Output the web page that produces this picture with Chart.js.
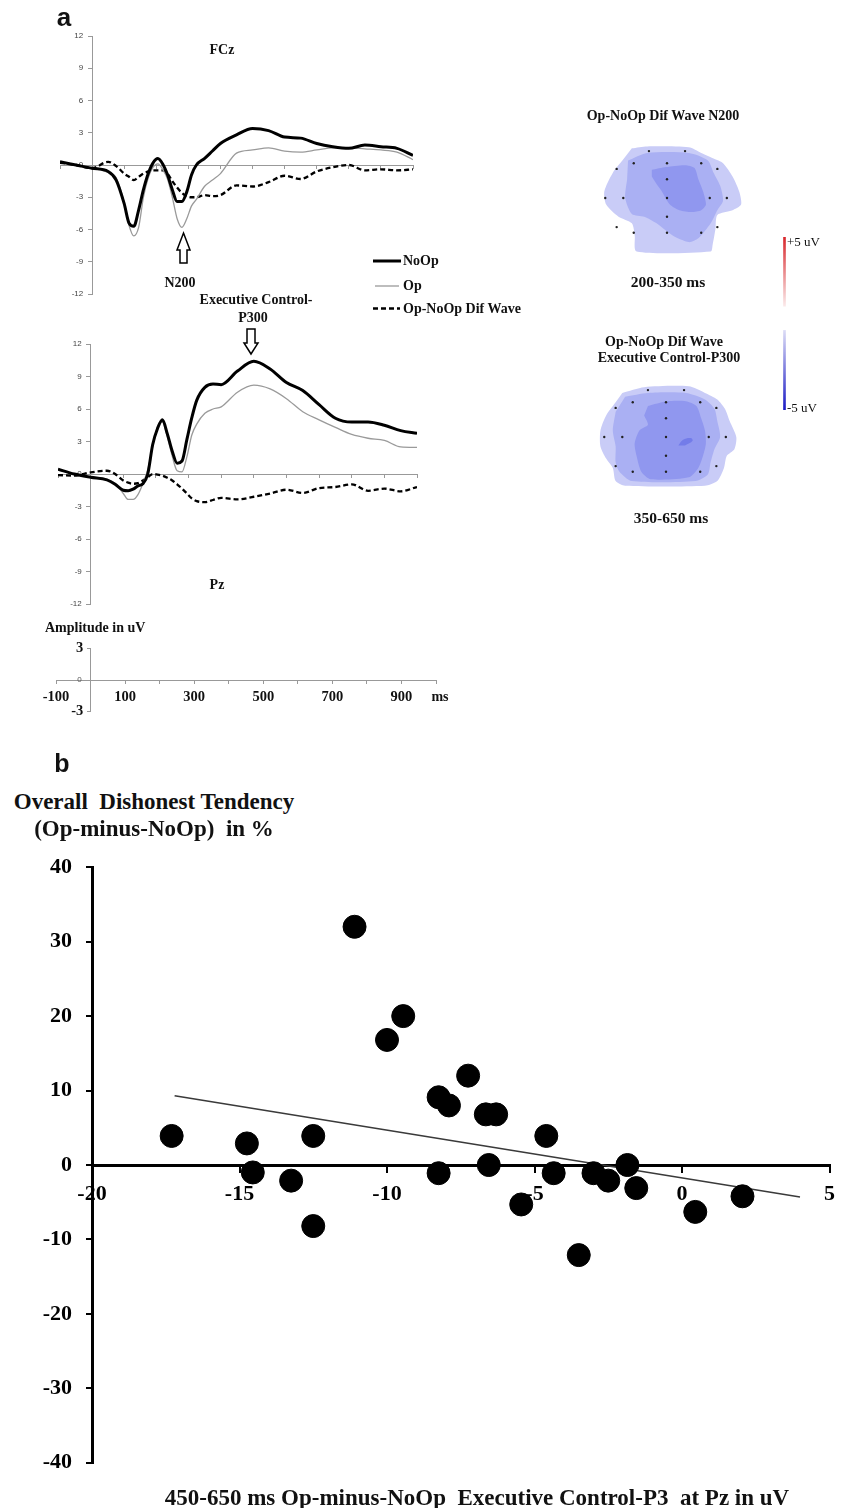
<!DOCTYPE html>
<html lang="en">
<head>
<meta charset="utf-8" />
<title>Op-NoOp ERP and dishonest tendency</title>
<script src="https://cdn.jsdelivr.net/npm/chart.js@4.4.0/dist/chart.umd.min.js"></script>
<style>
  body { margin: 0; width: 845px; height: 1508px; position: relative; background: #fff; overflow: hidden; }
  canvas { position: absolute; }
  .t { position: absolute; font-family: "Liberation Serif", serif; font-weight: bold; color: #111;
       white-space: pre; line-height: 1; transform: translate(-50%, -50%); }
  .l { transform: translate(0, -50%); }
  .n { font-weight: normal; }
  .sans { font-family: "Liberation Sans", sans-serif; }
</style>
</head>
<body>

<canvas id="fcz" width="440" height="278" style="left:0;top:26px"></canvas>
<canvas id="pz" width="440" height="285" style="left:0;top:334px"></canvas>
<canvas id="scalebar" width="460" height="86" style="left:0;top:637px"></canvas>
<canvas id="mapN200" width="160" height="130" style="left:587px;top:133px"></canvas>
<canvas id="mapP300" width="160" height="130" style="left:586px;top:372px"></canvas>
<canvas id="colorbar" width="11" height="183" style="left:779px;top:232px"></canvas>
<canvas id="scatter" width="845" height="650" style="left:0;top:840px"></canvas>

<svg width="845" height="760" style="position:absolute;left:0;top:0" xmlns="http://www.w3.org/2000/svg">
  <line x1="373" y1="261" x2="401" y2="261" stroke="#000" stroke-width="3" />
  <line x1="375" y1="286" x2="399" y2="286" stroke="#999" stroke-width="1.3" />
  <line x1="373" y1="308.5" x2="400" y2="308.5" stroke="#000" stroke-width="2.5" stroke-dasharray="5,3" />
  <polygon points="183.5,233 190,250 187,250 187,263 180,263 180,250 177,250" fill="#fff" stroke="#000" stroke-width="1.5" />
  <polygon points="247,329 255,329 255,343 258,343 251,354 244,343 247,343" fill="#fff" stroke="#000" stroke-width="1.5" />
</svg>

<div class="t sans" style="left:64px;top:17px;font-size:26px">a</div>
<div class="t" style="left:222px;top:50px;font-size:14px">FCz</div>
<div class="t" style="left:180px;top:283px;font-size:14px">N200</div>
<div class="t" style="left:256px;top:300px;font-size:14px">Executive Control-</div>
<div class="t" style="left:253px;top:318px;font-size:14px">P300</div>
<div class="t" style="left:217px;top:585px;font-size:14px">Pz</div>
<div class="t l" style="left:403px;top:261px;font-size:14px">NoOp</div>
<div class="t l" style="left:403px;top:286px;font-size:14px">Op</div>
<div class="t l" style="left:403px;top:309px;font-size:14px">Op-NoOp Dif Wave</div>
<div class="t l" style="left:45px;top:628px;font-size:14px">Amplitude in uV</div>
<div class="t" style="left:440px;top:697px;font-size:14px">ms</div>

<div class="t" style="left:663px;top:116px;font-size:14px">Op-NoOp Dif Wave N200</div>
<div class="t" style="left:668px;top:282px;font-size:15.5px">200-350 ms</div>
<div class="t" style="left:664px;top:342px;font-size:14px">Op-NoOp Dif Wave</div>
<div class="t" style="left:669px;top:358px;font-size:14px">Executive Control-P300</div>
<div class="t" style="left:671px;top:518px;font-size:15.5px">350-650 ms</div>
<div class="t l n" style="left:787px;top:241px;font-size:13px">+5 uV</div>
<div class="t l n" style="left:787px;top:407px;font-size:13px">-5 uV</div>

<div class="t sans" style="left:62px;top:763px;font-size:25px">b</div>
<div class="t" style="left:154px;top:801px;font-size:23px">Overall  Dishonest Tendency</div>
<div class="t" style="left:154px;top:828px;font-size:23px">(Op-minus-NoOp)  in %</div>
<div class="t" style="left:477px;top:1497px;font-size:23px">450-650 ms Op-minus-NoOp  Executive Control-P3  at Pz in uV</div>

<script>
// ERP sample times (ms) shared by all six waveforms
var timeMs = [-100, -50, 0, 50, 75, 100, 115, 130, 145, 160, 175, 190, 205, 220, 235, 250, 265, 280,
              295, 310, 325, 350, 375, 400, 450, 500, 550, 600, 650, 700, 750, 800, 850, 900, 950, 1000];

// FCz amplitudes (uV)
var fczNoOp = [0.3, 0.0, -0.3, -0.6, -1.4, -3.6, -5.4, -5.7, -4.2, -2.3, -0.8, 0.2, 0.6, 0.1, -0.9, -2.3, -3.4, -3.4,
               -2.5, -0.9, 0.0, 0.6, 1.3, 2.0, 2.8, 3.4, 3.2, 2.6, 2.5, 2.0, 1.7, 1.55, 1.85, 1.7, 1.55, 0.9];
var fczOp   = [0.3, 0.0, -0.3, -0.7, -1.2, -3.5, -5.6, -6.6, -5.8, -3.0, -1.2, -0.2, 0.1, -0.4, -1.3, -3.0, -5.0, -5.8,
               -5.0, -3.8, -3.2, -2.0, -1.4, -0.8, 1.1, 1.4, 1.6, 1.3, 1.2, 1.4, 1.6, 1.6, 1.5, 1.4, 1.2, 0.5];
var fczDif  = [0.2, 0.0, -0.3, 0.3, -0.1, -0.8, -1.1, -1.4, -1.1, -0.8, -0.6, -0.5, -0.5, -0.5, -0.8, -1.5, -2.1, -2.6,
               -2.9, -3.0, -3.0, -2.8, -2.9, -2.8, -1.9, -2.0, -1.6, -1.0, -1.3, -0.6, -0.2, 0.0, -0.5, -0.4, -0.5, -0.4];

// Pz amplitudes (uV)
var pzNoOp = [0.45, 0.0, -0.3, -0.55, -0.95, -1.5, -1.55, -1.4, -1.1, -0.9, 0.0, 2.7, 4.2, 5.0, 3.7, 2.1, 1.0, 1.2,
              3.2, 5.2, 6.8, 8.0, 8.3, 8.25, 9.5, 10.4, 9.7, 8.45, 7.7, 6.4, 5.15, 4.8, 4.8, 4.5, 4.0, 3.75];
var pzOp   = [0.4, 0.0, -0.3, -0.5, -0.85, -1.8, -2.35, -2.35, -1.9, -0.9, 0.4, 2.5, 4.4, 4.8, 3.4, 1.65, 0.3, 0.2,
              1.6, 3.6, 4.6, 5.6, 6.0, 6.2, 7.55, 8.2, 7.85, 6.95, 5.75, 5.0, 4.3, 3.65, 3.3, 3.1, 2.5, 2.45];
var pzDif  = [-0.1, -0.15, 0.15, 0.3, 0.0, -0.6, -0.8, -0.9, -0.85, -0.6, -0.3, 0.0, -0.05, -0.15, -0.35, -0.6, -0.95, -1.35,
              -1.8, -2.25, -2.5, -2.6, -2.4, -2.2, -2.35, -2.1, -1.8, -1.45, -1.75, -1.3, -1.2, -0.95, -1.55, -1.35, -1.6, -1.2];

// electrode layout, offsets from Cz
var electrodeX = [-19, 19, -35, 0, 36, -53, 53, 0, -65, -46, 0, 45, 63, 0, -53, -35, 0, 36, 53];
var electrodeY = [-50, -50, -37, -37, -37, -31, -31, -20, 0, 0, 0, 0, 0, 20, 31, 37, 37, 37, 31];

// topomap contour outlines (same offsets), 200-350 ms
var n200Outer  = [[-37,-53],[-21,-55],[23,-54],[36,-48],[49,-42],[59,-37],[69,-23],[76,-7],[78,7],[69,13],[53,18],
                  [51,33],[48,50],[46,57],[-32,57],[-34,40],[-37,27],[-51,20],[-64,7],[-66,-7],[-57,-27],[-47,-40]];
var n200Middle = [[-41,-40],[-21,-48],[23,-48],[43,-40],[49,-27],[56,-13],[59,3],[53,13],[46,27],[33,43],[23,47],
                  [6,40],[-11,27],[-24,20],[-37,17],[-44,0],[-42,-20]];
var n200Inner  = [[-16,-30],[-1,-33],[19,-35],[29,-32],[33,-20],[38,-7],[41,7],[36,13],[26,15],[13,13],[3,7],
                  [-6,-8],[-11,-15],[-16,-23]];
// 350-650 ms
var p300Outer  = [[-46,-47],[-23,-53],[24,-54],[41,-47],[54,-40],[62,-30],[67,-17],[74,0],[72,13],[64,20],[61,33],
                  [54,47],[41,52],[-43,52],[-53,47],[-56,33],[-63,23],[-69,10],[-69,-7],[-63,-23],[-53,-37]];
var p300Middle = [[-43,-43],[-19,-47],[21,-47],[41,-40],[51,-30],[54,-17],[57,0],[51,13],[47,27],[44,40],[31,47],
                  [-36,47],[-49,37],[-53,27],[-53,10],[-56,-7],[-53,-27]];
var p300Inner  = [[-19,-33],[1,-38],[21,-38],[32,-33],[37,-20],[41,-7],[42,7],[39,20],[34,33],[24,43],[-16,45],
                  [-26,37],[-31,20],[-33,7],[-28,-7],[-19,-13],[-23,-23]];
var p300Spot   = [[13,9],[18,3],[26,1],[28,4],[20,9]];

// colour scale (uV)
var colorbarPos = [1, 5];
var colorbarNeg = [-5, -0.4];

// panel b: per-subject values
var scatterX = [-17.3, -14.75, -14.55, -13.25, -12.5, -12.5, -11.1, -10.0, -9.45, -8.25, -7.9, -7.25, -8.25,
                -6.65, -6.3, -6.55, -5.45, -4.6, -4.35, -3.5, -3.0, -2.5, -1.85, -1.55, 0.45, 2.05];
var scatterY = [3.9, 2.9, -1.0, -2.1, 3.9, -8.2, 32.0, 16.8, 20.0, 9.1, 8.0, 12.0, -1.1,
                6.8, 6.8, 0.0, -5.3, 3.9, -1.1, -12.1, -1.1, -2.1, 0.0, -3.1, -6.3, -4.2];
var trendX = [-17.2, 4.0];
var trendY = [9.3, -4.3];

function pairs(xs, ys) {
  return xs.map(function (x, i) { return {x: x, y: ys[i]}; });
}
function shape(pts) {
  return pts.map(function (p) { return {x: p[0], y: p[1]}; });
}

var serifBold = function (size) { return {family: 'Liberation Serif', weight: 'bold', size: size}; };
var quiet = {legend: {display: false}, tooltip: {enabled: false}};

function erpChart(id, noop, op, dif, pad) {
  return new Chart(document.getElementById(id), {
    type: 'line',
    data: {
      datasets: [
        {label: 'NoOp', data: pairs(timeMs, noop), borderColor: '#000', borderWidth: 3},
        {label: 'Op', data: pairs(timeMs, op), borderColor: '#9a9a9a', borderWidth: 1.3},
        {label: 'Op-NoOp Dif Wave', data: pairs(timeMs, dif), borderColor: '#000', borderWidth: 2.3, borderDash: [5, 3]}
      ]
    },
    options: {
      responsive: false,
      animation: false,
      layout: {padding: pad},
      elements: {point: {radius: 0}, line: {cubicInterpolationMode: 'monotone', fill: false}},
      plugins: quiet,
      scales: {
        x: {
          type: 'linear', min: -100, max: 1000, position: {y: 0},
          ticks: {display: false, stepSize: 100},
          grid: {drawOnChartArea: false, tickLength: 3, color: '#999'},
          border: {color: '#999'}
        },
        y: {
          min: -12, max: 12, position: {x: 0},
          ticks: {stepSize: 3, color: '#444', font: {family: 'Liberation Sans', size: 8},
                  callback: function (v) { return v + '    '; }},
          grid: {drawOnChartArea: false, tickLength: 4, color: '#999'},
          border: {color: '#999'}
        }
      }
    }
  });
}

erpChart('fcz', fczNoOp, fczOp, fczDif, {left: 60, right: 27, top: 10, bottom: 10});
erpChart('pz', pzNoOp, pzOp, pzDif, {left: 58, right: 23, top: 10, bottom: 15});

// amplitude / time scale bar
new Chart(document.getElementById('scalebar'), {
  type: 'scatter',
  data: {datasets: []},
  options: {
    responsive: false,
    animation: false,
    layout: {padding: {left: 56, right: 24, top: 10, bottom: 10}},
    plugins: quiet,
    scales: {
      x: {
        type: 'linear', min: -100, max: 1000, position: {y: 0},
        ticks: {stepSize: 100, autoSkip: false, maxRotation: 0, padding: 6, color: '#111', font: serifBold(14.5),
                callback: function (v) { return (v + 100) % 200 === 0 ? String(v) : ''; }},
        grid: {drawOnChartArea: false, tickLength: 3, color: '#999'},
        border: {color: '#999'}
      },
      y: {
        type: 'linear', min: -3, max: 3, position: {x: 0},
        ticks: {
          stepSize: 3,
          color: function (c) { return c.tick && c.tick.value === 0 ? '#555' : '#111'; },
          font: function (c) {
            return c.tick && c.tick.value === 0 ? {family: 'Liberation Sans', size: 8} : serifBold(14.5);
          },
          callback: function (v) { return v === 0 ? '0    ' : v + '  '; }
        },
        grid: {drawOnChartArea: false, tickLength: 3, color: '#999'},
        border: {color: '#999'}
      }
    }
  }
});

function topoChart(id, outer, middle, inner, spot) {
  var sets = [
    {type: 'line', data: shape(outer), fill: 'shape', backgroundColor: '#c9ccf7', borderWidth: 0, tension: 0.25, order: 5},
    {type: 'line', data: shape(middle), fill: 'shape', backgroundColor: '#aab0f3', borderWidth: 0, tension: 0.25, order: 4},
    {type: 'line', data: shape(inner), fill: 'shape', backgroundColor: '#9097ef', borderWidth: 0, tension: 0.25, order: 3},
    {data: pairs(electrodeX, electrodeY), backgroundColor: '#222', pointRadius: 1.2, borderWidth: 0, order: 1}
  ];
  if (spot) {
    sets.push({type: 'line', data: shape(spot), fill: 'shape', backgroundColor: '#737ce9', borderWidth: 0, tension: 0.4, order: 2});
  }
  return new Chart(document.getElementById(id), {
    type: 'scatter',
    data: {datasets: sets},
    options: {
      responsive: false,
      animation: false,
      layout: {padding: 0},
      elements: {point: {radius: 0}},
      plugins: quiet,
      scales: {
        x: {type: 'linear', min: -80, max: 80, display: false},
        y: {type: 'linear', min: -65, max: 65, reverse: true, display: false}
      }
    }
  });
}

topoChart('mapN200', n200Outer, n200Middle, n200Inner, null);
topoChart('mapP300', p300Outer, p300Middle, p300Inner, p300Spot);

function fade(top, bottom, c1, c2) {
  return function (c) {
    var ch = c.chart;
    if (!ch.chartArea) return c1;
    var y = ch.scales.y;
    var g = ch.ctx.createLinearGradient(0, y.getPixelForValue(top), 0, y.getPixelForValue(bottom));
    g.addColorStop(0, c1);
    g.addColorStop(1, c2);
    return g;
  };
}

new Chart(document.getElementById('colorbar'), {
  type: 'bar',
  data: {
    labels: [''],
    datasets: [
      {data: [colorbarPos], backgroundColor: fade(5, 1, '#d8262b', '#fbeaea')},
      {data: [colorbarNeg], backgroundColor: fade(-0.4, -5, '#dcdcf6', '#1a1ac4')}
    ]
  },
  options: {
    responsive: false,
    animation: false,
    grouped: false,
    barThickness: 2,
    layout: {padding: {top: 5, bottom: 5, left: 0, right: 0}},
    plugins: quiet,
    scales: {
      x: {display: false},
      y: {display: false, min: -5, max: 5}
    }
  }
});

// panel b
new Chart(document.getElementById('scatter'), {
  type: 'scatter',
  data: {
    datasets: [
      {type: 'line', data: pairs(trendX, trendY), borderColor: '#3a3a3a', borderWidth: 1.5, pointRadius: 0, order: 2},
      {data: pairs(scatterX, scatterY), backgroundColor: '#000', borderColor: '#000', pointRadius: 11.5, order: 1}
    ]
  },
  options: {
    responsive: false,
    animation: false,
    layout: {padding: {left: 0, right: 7, top: 20, bottom: 20}},
    plugins: quiet,
    scales: {
      x: {
        type: 'linear', min: -20, max: 5, position: {y: 0},
        ticks: {stepSize: 5, maxRotation: 0, padding: 10, color: '#000', font: serifBold(22)},
        grid: {drawOnChartArea: false, tickLength: 6, color: '#000', lineWidth: 2},
        border: {color: '#000', width: 3}
      },
      y: {
        type: 'linear', min: -40, max: 40, position: 'left',
        afterFit: function (s) { s.width = 92; },
        ticks: {stepSize: 10, padding: 14, color: '#000', font: serifBold(22)},
        grid: {drawOnChartArea: false, tickLength: 6, color: '#000', lineWidth: 2},
        border: {color: '#000', width: 3}
      }
    }
  }
});
</script>
</body>
</html>
